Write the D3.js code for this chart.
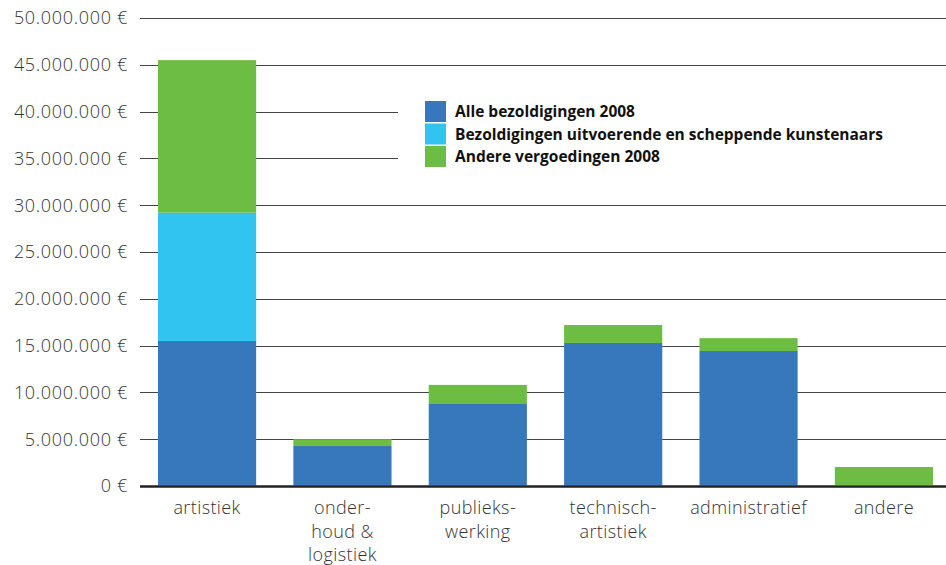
<!DOCTYPE html>
<html>
<head>
<meta charset="utf-8">
<script src="https://cdn.jsdelivr.net/npm/d3@7"></script>
<style>
  body { margin: 0; background: #fff; }
  svg { font-family: "Open Sans", sans-serif; }
</style>
</head>
<body>
<svg id="chart"></svg>
<script>
// categories (multi-line labels)
var categories = ["artistiek", "onderhoud & logistiek", "publiekswerking", "technisch-artistiek", "administratief", "andere"];
var categoryLines = [["artistiek"], ["onder-", "houd &", "logistiek"], ["publieks-", "werking"], ["technisch-", "artistiek"], ["administratief"], ["andere"]];

// series values (euro)
var alleBezoldigingen = [15500000, 4270000, 8760000, 15280000, 14420000, 0];
var kunstenaars       = [13700000, 0, 0, 0, 0, 0];
var andereVergoeding  = [16300000, 730000, 2040000, 1920000, 1380000, 2030000];

var seriesNames = ["Alle bezoldigingen 2008", "Bezoldigingen uitvoerende en scheppende kunstenaars", "Andere vergoedingen 2008"];
var seriesColors = ["#3777bb", "#31c4f0", "#6dbd45"];

var yTicks = [0, 5000000, 10000000, 15000000, 20000000, 25000000, 30000000, 35000000, 40000000, 45000000, 50000000];

var width = 946, height = 565;

var svg = d3.select("#chart")
  .attr("width", width)
  .attr("height", height);

var rows = categories.map(function (c, i) {
  return { cat: c, s0: alleBezoldigingen[i], s1: kunstenaars[i], s2: andereVergoeding[i] };
});

var stack = d3.stack().keys(["s0", "s1", "s2"]);
var stacked = stack(rows);

var x = d3.scaleBand()
  .domain(categories)
  .range([140, 951])
  .paddingInner(0.275)
  .paddingOuter(0.133);

var y = d3.scaleLinear()
  .domain([0, 50000000])
  .range([486, 18]);

var fmt = function (v) {
  return d3.format(",")(v).replace(/,/g, ".") + " \u20ac";
};

// gridlines
svg.append("g")
  .selectAll("line")
  .data(yTicks)
  .enter().append("line")
  .attr("x1", 140)
  .attr("x2", width)
  .attr("y1", d => Math.round(y(d)) + 0.5)
  .attr("y2", d => Math.round(y(d)) + 0.5)
  .attr("stroke", d => d === 0 ? "#222" : "#444")
  .attr("stroke-width", d => d === 0 ? 2 : 1);

// y labels
svg.append("g")
  .selectAll("text")
  .data(yTicks)
  .enter().append("text")
  .attr("x", 128)
  .attr("y", d => y(d))
  .attr("dy", "0.35em")
  .attr("text-anchor", "end")
  .attr("fill", "#333")
  .style("font-size", "18px")
  .style("letter-spacing", "0.7px")
  .style("font-weight", 300)
  .text(fmt);

// legend background hides part of the grid
svg.append("rect")
  .attr("x", 398)
  .attr("y", 92)
  .attr("width", 548)
  .attr("height", 80)
  .attr("fill", "#fff");

// bars
svg.append("g")
  .selectAll("g")
  .data(stacked)
  .enter().append("g")
  .attr("fill", (d, i) => seriesColors[i])
  .selectAll("rect")
  .data(d => d)
  .enter().append("rect")
  .attr("x", d => x(d.data.cat))
  .attr("width", x.bandwidth())
  .attr("y", d => y(d[1]))
  .attr("height", d => y(d[0]) - y(d[1]));

// redraw baseline above bars
svg.append("line")
  .attr("x1", 140).attr("x2", width)
  .attr("y1", y(0) + 0.5).attr("y2", y(0) + 0.5)
  .attr("stroke", "#222").attr("stroke-width", 2);

// x labels
var xl = svg.append("g")
  .selectAll("text")
  .data(categories)
  .enter().append("text")
  .attr("x", d => x(d) + x.bandwidth() / 2)
  .attr("y", 514)
  .attr("text-anchor", "middle")
  .attr("fill", "#333")
  .style("font-size", "18px")
  .style("letter-spacing", "0.4px")
  .style("font-weight", 300);

xl.each(function (d, i) {
  var t = d3.select(this);
  categoryLines[i].forEach(function (line, j) {
    t.append("tspan")
      .attr("x", x(d) + x.bandwidth() / 2)
      .attr("dy", j === 0 ? 0 : 23.5)
      .text(line);
  });
});

// legend
var legend = svg.append("g")
  .selectAll("g")
  .data(seriesNames)
  .enter().append("g")
  .attr("transform", (d, i) => "translate(425," + (101 + i * 22.5) + ")");

legend.append("rect")
  .attr("width", 21)
  .attr("height", 21)
  .attr("fill", (d, i) => seriesColors[i]);

legend.append("text")
  .attr("x", 30)
  .attr("y", 11)
  .attr("dy", "0.35em")
  .attr("fill", "#111")
  .style("font-size", "15.5px")
  .style("font-weight", 700)
  .text(d => d);
</script>
</body>
</html>
